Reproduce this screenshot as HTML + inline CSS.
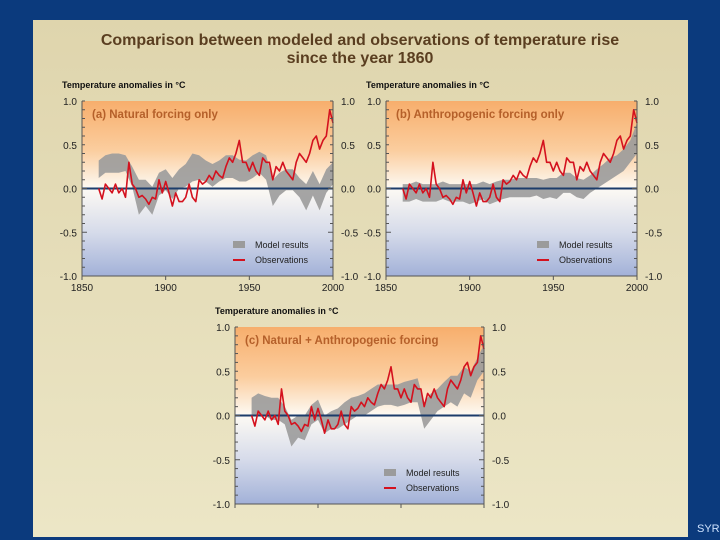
<!DOCTYPE html>
<html><head><meta charset="utf-8">
<style>
html,body{margin:0;padding:0;width:720px;height:540px;overflow:hidden;background:#0b3a7d;}
svg{display:block;font-family:"Liberation Sans",Arial,sans-serif;}
</style></head>
<body>
<svg id="chart" width="720" height="540" viewBox="0 0 720 540">
<defs>
<linearGradient id="pageGrad" x1="0" y1="0" x2="0" y2="1">
<stop offset="0" stop-color="#dfd5ad"/><stop offset="1" stop-color="#ece6c6"/>
</linearGradient>
<linearGradient id="plotGrad" x1="0" y1="0" x2="0" y2="1">
<stop offset="0" stop-color="#f7ae6c"/>
<stop offset="0.28" stop-color="#fbcd9e"/>
<stop offset="0.5" stop-color="#fdfaf4"/>
<stop offset="0.75" stop-color="#d6dbea"/>
<stop offset="1" stop-color="#a2b1d8"/>
</linearGradient>
</defs>
<rect x="0" y="0" width="720" height="540" fill="#0b3a7d"/>
<rect x="33" y="20" width="655" height="517" fill="url(#pageGrad)"/>
<text x="360" y="45" text-anchor="middle" font-size="16" font-weight="bold" fill="#5a3e20">Comparison between modeled and observations of temperature rise</text>
<text x="360" y="63" text-anchor="middle" font-size="16" font-weight="bold" fill="#5a3e20">since the year 1860</text>
<text x="697" y="532" font-size="11" fill="#cfe3ff">SYR</text>
<g id="panels"></g>
</svg>
<script>
const obsYears = [1860,1862,1864,1866,1868,1870,1872,1874,1876,1878,1880,1882,1884,1886,1888,1890,1892,1894,1896,1898,1900,1902,1904,1906,1908,1910,1912,1914,1916,1918,1920,1922,1924,1926,1928,1930,1932,1934,1936,1938,1940,1942,1944,1946,1948,1950,1952,1954,1956,1958,1960,1962,1964,1966,1968,1970,1972,1974,1976,1978,1980,1982,1984,1986,1988,1990,1992,1994,1996,1998,2000];
const observations = [0.0,-0.12,0.05,0.0,-0.05,0.05,-0.05,0.0,-0.1,0.3,0.05,0.0,-0.1,-0.08,-0.12,-0.18,-0.1,-0.12,0.1,-0.05,0.08,-0.05,-0.2,-0.05,-0.15,-0.15,-0.1,0.05,-0.1,-0.15,0.1,0.05,0.08,0.15,0.1,0.2,0.15,0.12,0.25,0.35,0.3,0.4,0.55,0.3,0.3,0.2,0.3,0.2,0.15,0.35,0.3,0.3,0.1,0.25,0.2,0.3,0.2,0.15,0.1,0.3,0.4,0.35,0.3,0.4,0.55,0.6,0.45,0.55,0.6,0.9,0.75];
const modelYears = [1860,1864,1868,1872,1876,1880,1884,1888,1892,1896,1900,1904,1908,1912,1916,1920,1924,1928,1932,1936,1940,1944,1948,1952,1956,1960,1964,1968,1972,1976,1980,1984,1988,1992,1996,2000];
const naturalLow  = [0.12,0.18,0.18,0.18,0.2,0.02,-0.3,-0.2,-0.3,-0.08,-0.02,-0.12,0.0,0.02,0.08,0.1,0.08,0.02,0.08,0.12,0.12,0.08,0.08,0.12,0.18,0.1,-0.2,-0.08,-0.02,-0.02,-0.1,-0.25,-0.08,-0.25,-0.05,0.05];
const naturalHigh = [0.32,0.38,0.4,0.4,0.38,0.25,0.1,0.1,0.02,0.18,0.22,0.12,0.22,0.28,0.4,0.38,0.32,0.28,0.32,0.38,0.38,0.33,0.32,0.38,0.42,0.38,0.1,0.18,0.22,0.22,0.12,0.05,0.2,0.05,0.22,0.3];
const anthroLow  = [-0.15,-0.15,-0.12,-0.15,-0.15,-0.15,-0.12,-0.15,-0.15,-0.15,-0.18,-0.15,-0.12,-0.18,-0.15,-0.12,-0.1,-0.1,-0.1,-0.1,-0.08,-0.12,-0.1,-0.12,-0.05,-0.05,-0.1,-0.12,-0.05,0.0,0.05,0.1,0.15,0.2,0.3,0.4];
const anthroHigh = [0.05,0.05,0.08,0.05,0.05,0.05,0.08,0.05,0.05,0.05,0.05,0.05,0.08,0.05,0.08,0.1,0.1,0.12,0.12,0.12,0.12,0.1,0.12,0.12,0.18,0.18,0.12,0.1,0.15,0.22,0.28,0.35,0.38,0.45,0.55,0.75];
const combinedLow  = [0.0,0.0,0.0,-0.05,-0.05,-0.1,-0.35,-0.25,-0.28,-0.1,-0.05,-0.2,-0.15,-0.15,-0.1,-0.05,0.0,0.0,0.05,0.1,0.12,0.12,0.1,0.12,0.15,0.15,-0.15,-0.05,0.05,0.1,0.15,0.1,0.25,0.2,0.4,0.5];
const combinedHigh = [0.2,0.25,0.22,0.2,0.2,0.1,-0.05,0.0,0.0,0.12,0.18,0.0,0.05,0.08,0.15,0.2,0.22,0.25,0.3,0.35,0.35,0.35,0.35,0.38,0.4,0.42,0.15,0.25,0.3,0.38,0.45,0.45,0.55,0.5,0.65,0.8];
const xTicks = [1850,1900,1950,2000];
const yTicks = [1.0,0.5,0.0,-0.5,-1.0];
const yTickLabels = ["1.0","0.5","0.0","-0.5","-1.0"];

const NS = "http://www.w3.org/2000/svg";
const root = document.getElementById("panels");
function mk(tag, attrs, parent){
  const e = document.createElementNS(NS, tag);
  for (const k in attrs) e.setAttribute(k, attrs[k]);
  (parent||root).appendChild(e);
  return e;
}
function panel(cfg){
  const g = mk("g", {});
  
  
  const xS = v => cfg.x0 + (v-1850)/150*(cfg.x1-cfg.x0);
  const yS = v => cfg.y0 + (1-v)/2*(cfg.y1-cfg.y0);
  const bg = mk("rect", {x:cfg.x0, y:cfg.y0, width:cfg.x1-cfg.x0, height:cfg.y1-cfg.y0, fill:"url(#plotGrad)"}, g);
  
  
  const at = mk("text", {x:cfg.x0-20, y:cfg.y0-13, "font-size":"9", "font-weight":"bold", fill:"#111"}, g);
  at.textContent = "Temperature anomalies in °C";
  
  
  let d = "";
  modelYears.forEach((yr,i)=>{ d += (i?"L":"M")+xS(yr).toFixed(1)+","+yS(cfg.hi[i]).toFixed(1); });
  for (let i=modelYears.length-1;i>=0;i--) d += "L"+xS(modelYears[i]).toFixed(1)+","+yS(cfg.lo[i]).toFixed(1);
  const band = mk("path", {d:d+"Z", fill:"#9b9b9b", opacity:"0.9"}, g);
  
  
  const zl = mk("line", {x1:cfg.x0, x2:cfg.x1, y1:yS(0), y2:yS(0), stroke:"#1c3c6a", "stroke-width":"2"}, g);
  
  
  const pts = obsYears.map((yr,i)=>xS(yr).toFixed(1)+","+yS(observations[i]).toFixed(1)).join(" ");
  const ol = mk("polyline", {points:pts, fill:"none", stroke:"#d4111e", "stroke-width":"1.6", "stroke-linejoin":"round"}, g);
  
  
  mk("line", {x1:cfg.x0, x2:cfg.x0, y1:cfg.y0, y2:cfg.y1, stroke:"#555", "stroke-width":"1"}, g);
  mk("line", {x1:cfg.x1, x2:cfg.x1, y1:cfg.y0, y2:cfg.y1, stroke:"#555", "stroke-width":"1"}, g);
  mk("line", {x1:cfg.x0, x2:cfg.x1, y1:cfg.y1, y2:cfg.y1, stroke:"#555", "stroke-width":"1"}, g);
  for (let v=-1; v<=1.001; v+=0.1){
    const len = Math.abs((v*10)%5)<0.01 ? 5 : 3;
    mk("line", {x1:cfg.x0, x2:cfg.x0+len, y1:yS(v), y2:yS(v), stroke:"#555"}, g);
    mk("line", {x1:cfg.x1-len, x2:cfg.x1, y1:yS(v), y2:yS(v), stroke:"#555"}, g);
  }
  yTicks.forEach((v,i)=>{
    const l = mk("text", {x:cfg.x0-5, y:yS(v)+4, "text-anchor":"end", "font-size":"10", fill:"#222"}, g);
    l.textContent = yTickLabels[i];
    
    
    const r = mk("text", {x:cfg.x1+8, y:yS(v)+4, "font-size":"10", fill:"#222"}, g);
    r.textContent = yTickLabels[i];
    
    
  });
  xTicks.forEach(v=>{
    mk("line", {x1:xS(v), x2:xS(v), y1:cfg.y1, y2:cfg.y1+4, stroke:"#555"}, g);
    if (cfg.xLabels){
      const t = mk("text", {x:xS(v), y:cfg.y1+15, "text-anchor":"middle", "font-size":"10", fill:"#222"}, g);
      t.textContent = v;
      
      
    }
  });
  const pl = mk("text", {x:cfg.x0+10, y:cfg.y0+17, "font-size":"11.5", "font-weight":"bold", fill:"#b5602a"}, g);
  pl.textContent = cfg.label;
  
  
  const lx = cfg.x1-100, ly = cfg.y1-31;
  const lr = mk("rect", {x:lx, y:ly-4, width:12, height:7, fill:"#9b9b9b"}, g);
  
  
  const lt = mk("text", {x:lx+22, y:ly+3, "font-size":"9", fill:"#222"}, g);
  lt.textContent = "Model results";
  
  
  const ll = mk("line", {x1:lx, x2:lx+12, y1:ly+15, y2:ly+15, stroke:"#d4111e", "stroke-width":"2"}, g);
  
  
  const lt2 = mk("text", {x:lx+22, y:ly+18, "font-size":"9", fill:"#222"}, g);
  lt2.textContent = "Observations";
  
  
}
panel({name:"panel-a-natural", x0:82, x1:333, y0:101, y1:276, lo:naturalLow, hi:naturalHigh, label:"(a) Natural forcing only", xLabels:true});
panel({name:"panel-b-anthropogenic", x0:386, x1:637, y0:101, y1:276, lo:anthroLow, hi:anthroHigh, label:"(b) Anthropogenic forcing only", xLabels:true});
panel({name:"panel-c-combined", x0:235, x1:484, y0:327, y1:504, lo:combinedLow, hi:combinedHigh, label:"(c) Natural + Anthropogenic forcing", xLabels:false});
</script>
</body></html>
